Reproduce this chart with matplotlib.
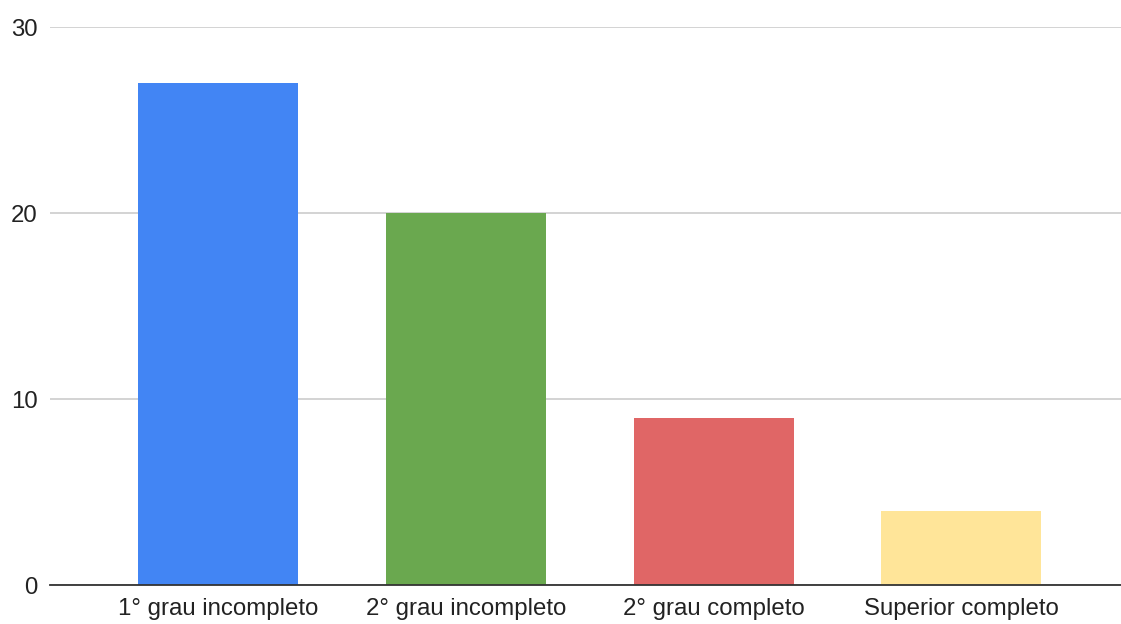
import matplotlib
matplotlib.use("Agg")
import matplotlib.pyplot as plt

categories = ["1° grau incompleto", "2° grau incompleto", "2° grau completo", "Superior completo"]
values = [27, 20, 9, 4]
colors = ["#4285F4", "#6AA84F", "#E06666", "#FFE599"]
yticks = [0, 10, 20, 30]

plt.rcParams['font.family'] = ['Liberation Sans', 'DejaVu Sans']

W, H = 1121, 624
fig = plt.figure(figsize=(W/100, H/100), dpi=100)
ax = fig.add_axes([50/W, (H-585)/H, (W-50)/W, (585-27)/H])

x = list(range(len(categories)))
ax.bar(x, values, width=0.646, color=colors, zorder=3)

ax.set_ylim(0, 30)
ax.set_xlim(-0.68, 3.645)
ax.set_yticks(yticks)
ax.set_xticks(x)
ax.set_xticklabels(categories)
ax.yaxis.grid(True, color="#cccccc", linewidth=1.2, zorder=0)
for s in ["top", "right", "left"]:
    ax.spines[s].set_visible(False)
ax.spines["bottom"].set_color("#333333")
ax.spines["bottom"].set_linewidth(1.3)
ax.spines["bottom"].set_zorder(4)
ax.tick_params(axis="both", length=0, labelsize=17.3, labelcolor="#222222")
ax.tick_params(axis="y", pad=9)
ax.tick_params(axis="x", pad=9)

fig.savefig("out.png", dpi=100, facecolor="white")
